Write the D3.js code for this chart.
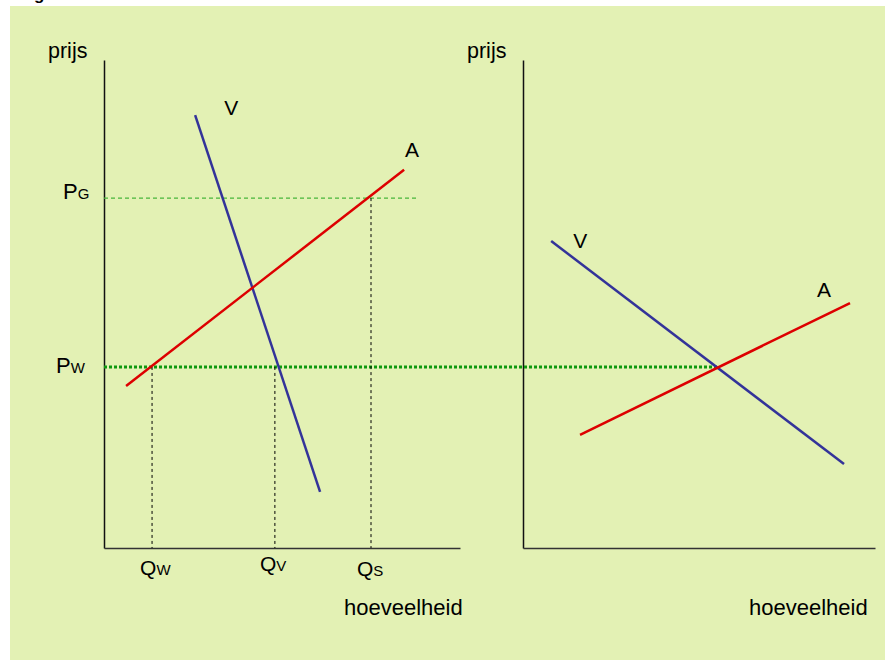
<!DOCTYPE html>
<html>
<head>
<meta charset="utf-8">
<script src="https://cdn.jsdelivr.net/npm/d3@7"></script>
<style>
  body { margin: 0; background: #ffffff; }
  svg { display: block; font-family: Arial, "Liberation Sans", sans-serif; }
</style>
</head>
<body>
<div></div>
<script>
// data, in (quantity, price) units 0..100
const LEFT_SUPPLY = [[6.2, 33.2], [84.3, 77.5]];    // A
const LEFT_DEMAND = [[25.6, 88.7], [60.7, 11.5]];   // V
const RIGHT_DEMAND = [[8.0, 62.9], [91.2, 17.2]];   // V
const RIGHT_SUPPLY = [[16.2, 23.2], [92.9, 50.2]];  // A

const PRICE_NAMES = ["G", "W"];
const PRICE_VALUES = [71.7, 37.1];
const PG_END = 88.2;        // quantity where the PG line stops (left)
const PW_END_RIGHT = 55.4;  // quantity where the PW line stops (right)

const QTY_NAMES = ["W", "V", "S"];
const QTY_VALUES = [13.5, 48.0, 75.0];

const WIDTH = 885;
const HEIGHT = 661;

const Y_SCALE = d3.scaleLinear().domain([0, 100]).range([548, 60]);
const XL_SCALE = d3.scaleLinear().domain([0, 100]).range([104, 460]);
const XR_SCALE = d3.scaleLinear().domain([0, 100]).range([523, 875]);

const RED = "#dd0000";
const BLUE = "#333399";

let svg = d3.select('div')
            .append('svg')
            .attr('width', WIDTH)
            .attr('height', HEIGHT);

svg.append('rect')
   .attr('x', 10)
   .attr('y', 6)
   .attr('width', WIDTH - 10)
   .attr('height', 654)
   .attr('fill', '#e3f1b4');

// heading above the panel, mostly off the top of the page
svg.append('text')
   .attr('x', 19)
   .attr('y', 0)
   .attr('font-size', 17)
   .attr('font-weight', 'bold')
   .text('Figuur');

// axes (domain lines only)
function drawAxes(xScale) {
    svg.append('g')
       .attr('transform', 'translate(' + xScale(0) + ',0)')
       .call(d3.axisLeft(Y_SCALE).ticks(0).tickSizeOuter(0))
       .select('.domain').attr('stroke', '#111').attr('stroke-width', 1.5);
    svg.append('g')
       .attr('transform', 'translate(0,' + Y_SCALE(0) + ')')
       .call(d3.axisBottom(xScale).ticks(0).tickSizeOuter(0))
       .select('.domain').attr('stroke', '#333').attr('stroke-width', 1.5);
}
drawAxes(XL_SCALE);
drawAxes(XR_SCALE);

// helper lines
// PG dashed
svg.append('line')
   .attr('x1', XL_SCALE(0)).attr('x2', XL_SCALE(PG_END))
   .attr('y1', Y_SCALE(PRICE_VALUES[0])).attr('y2', Y_SCALE(PRICE_VALUES[0]))
   .attr('stroke', '#48b63a').attr('stroke-width', 1.2)
   .attr('stroke-dasharray', '4,3');

// PW dotted, through both panels
svg.append('line')
   .attr('x1', XL_SCALE(0)).attr('x2', XR_SCALE(PW_END_RIGHT))
   .attr('y1', Y_SCALE(PRICE_VALUES[1])).attr('y2', Y_SCALE(PRICE_VALUES[1]))
   .attr('stroke', '#0e990e').attr('stroke-width', 3)
   .attr('stroke-dasharray', '3,2');

// vertical dashed lines down to the quantity axis
let qTops = [PRICE_VALUES[1], PRICE_VALUES[1], PRICE_VALUES[0]];
svg.selectAll('.qline')
   .data(QTY_VALUES)
   .enter()
   .append('line')
   .attr('class', 'qline')
   .attr('x1', (d) => XL_SCALE(d)).attr('x2', (d) => XL_SCALE(d))
   .attr('y1', (d, i) => Y_SCALE(qTops[i])).attr('y2', Y_SCALE(0))
   .attr('stroke', '#000').attr('stroke-width', 1)
   .attr('stroke-dasharray', '3,3');

// demand and supply curves
const LINE = (xScale) => d3.line().x((d) => xScale(d[0])).y((d) => Y_SCALE(d[1]));
const CURVES = [
    {data: LEFT_DEMAND, scale: XL_SCALE, color: BLUE},
    {data: LEFT_SUPPLY, scale: XL_SCALE, color: RED},
    {data: RIGHT_DEMAND, scale: XR_SCALE, color: BLUE},
    {data: RIGHT_SUPPLY, scale: XR_SCALE, color: RED}
];
CURVES.forEach((c) => {
    svg.append('path')
       .attr('d', LINE(c.scale)(c.data))
       .attr('fill', 'none')
       .attr('stroke', c.color)
       .attr('stroke-width', 2.5);
});

// curve labels, next to an end of each curve
function curveLabel(txt, pt, xScale, dx, dy) {
    svg.append('text')
       .attr('x', xScale(pt[0]) + dx)
       .attr('y', Y_SCALE(pt[1]) + dy)
       .attr('font-size', 21)
       .text(txt);
}
curveLabel('V', LEFT_DEMAND[0], XL_SCALE, 29, 0);
curveLabel('A', LEFT_SUPPLY[1], XL_SCALE, 1, -13);
curveLabel('V', RIGHT_DEMAND[0], XR_SCALE, 22, 7);
curveLabel('A', RIGHT_SUPPLY[1], XR_SCALE, -33, -6);

// price labels P_G, P_W
let pText = svg.selectAll('.plabel')
   .data(PRICE_VALUES)
   .enter()
   .append('text')
   .attr('class', 'plabel')
   .attr('y', (d) => Y_SCALE(d) + [1, 6][PRICE_VALUES.indexOf(d)])
   .attr('x', (d, i) => [63, 56][i])
   .attr('font-size', 22);
pText.append('tspan').text('P');
pText.append('tspan').attr('font-size', 15).text((d, i) => PRICE_NAMES[i]);

// quantity labels Q_W, Q_V, Q_S
let qText = svg.selectAll('.qlabel')
   .data(QTY_VALUES)
   .enter()
   .append('text')
   .attr('class', 'qlabel')
   .attr('x', (d) => XL_SCALE(d) - [12, 15, 14][QTY_VALUES.indexOf(d)])
   .attr('y', (d, i) => [575, 571, 576][i])
   .attr('font-size', 21);
qText.append('tspan').text('Q');
qText.append('tspan').attr('font-size', 15).text((d, i) => QTY_NAMES[i]);

// axis titles
[[XL_SCALE, 48, 344], [XR_SCALE, 467, 749]].forEach((a) => {
    svg.append('text')
       .attr('x', a[1]).attr('y', 58)
       .attr('font-size', 21.5)
       .text('prijs');
    svg.append('text')
       .attr('x', a[2]).attr('y', 615)
       .attr('font-size', 22)
       .text('hoeveelheid');
});
</script>
</body>
</html>
